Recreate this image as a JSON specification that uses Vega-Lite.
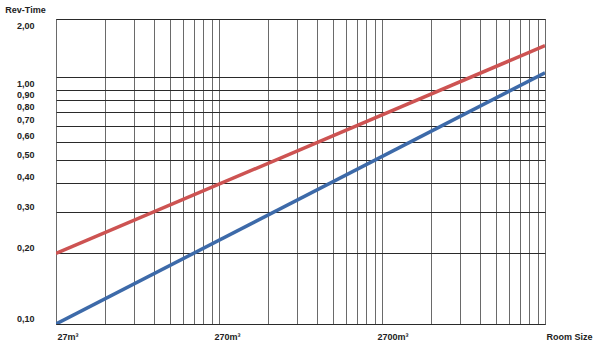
{
  "$schema": "https://vega.github.io/schema/vega-lite/v6.json",
  "width": 489,
  "height": 305,
  "autosize": "none",
  "padding": {"left": 56, "top": 19, "right": 55, "bottom": 18},
  "background": "white",
  "config": {
    "view": {"stroke": "#222222", "strokeWidth": 1},
    "axis": {"labelFont": "Liberation Sans", "labelFontWeight": "bold", "labelFontSize": 9, "labelColor": "#222222", "titleFont": "Liberation Sans", "titleFontWeight": "bold", "titleFontSize": 9, "titleColor": "#222222", "domain": false, "ticks": false}
  },
  "data": {
    "values": [
      {"size": 27, "time": 0.1, "series": "A"},
      {"size": 27000, "time": 1.18, "series": "A"},
      {"size": 27, "time": 0.2, "series": "B"},
      {"size": 27000, "time": 1.54, "series": "B"}
    ]
  },
  "mark": {"type": "line", "strokeWidth": 3.5, "clip": true},
  "encoding": {
    "x": {
      "field": "size", "type": "quantitative",
      "scale": {"type": "log", "domain": [27, 27000], "nice": false},
      "axis": {
        "title": null,
        "values": [27, 54, 81, 108, 135, 162, 189, 216, 243, 270, 540, 810, 1080, 1350, 1620, 1890, 2160, 2430, 2700, 5400, 8100, 10800, 13500, 16200, 18900, 21600, 24300, 27000],
        "labelExpr": "datum.value == 27 ? '27m³' : datum.value == 270 ? '270m³' : datum.value == 2700 ? '2700m³' : datum.value == 27000 ? 'Room Size' : ''",
        "labelAlign": "left",
        "labelOffset": {"condition": {"test": "datum.value == 270 || datum.value == 2700", "value": -5}, "value": 1},
        "labelPadding": 8,
        "labelOverlap": false,
        "labelFlush": false,
        "gridColor": "#6a6a6a",
        "gridWidth": 1,
        "gridOpacity": 1
      }
    },
    "y": {
      "field": "time", "type": "quantitative",
      "scale": {"type": "log", "domain": [0.1, 2], "nice": false},
      "axis": {
        "title": "Rev-Time",
        "titleAngle": 0,
        "titleAlign": "center",
        "titleBaseline": "middle",
        "titleX": -31,
        "titleY": -10,
        "values": [0.1, 0.2, 0.3, 0.4, 0.5, 0.6, 0.7, 0.8, 0.9, 1.0, 1.13, 2.0],
        "labelExpr": "datum.value > 1.05 && datum.value < 1.5 ? '' : replace(format(datum.value, '.2f'), '.', ',')",
        "labelBaseline": {"condition": {"test": "datum.value > 1.5", "value": "top"}, "value": "bottom"},
        "labelOffset": {"condition": {"test": "datum.value > 1.5", "value": 2}, "value": -1},
        "labelPadding": 22,
        "labelOverlap": false,
        "labelFlush": false,
        "gridColor": "#2a2a2a",
        "gridWidth": 1,
        "gridOpacity": 1
      }
    },
    "color": {
      "field": "series", "type": "nominal",
      "scale": {"domain": ["A", "B"], "range": ["#3d6aa9", "#cd5352"]},
      "legend": null
    }
  }
}
